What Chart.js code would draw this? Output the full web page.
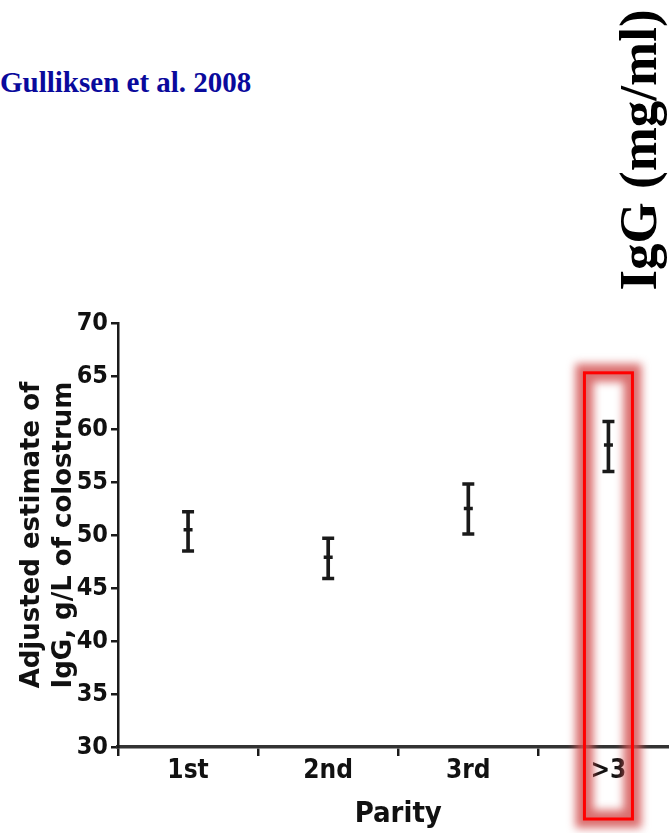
<!DOCTYPE html>
<html>
<head>
<meta charset="utf-8">
<script src="https://cdn.jsdelivr.net/npm/chart.js@4"></script>
<style>
  html, body { margin: 0; padding: 0; background: #fff; overflow: hidden; width: 669px; height: 833px; }
  #wrap { position: absolute; left: 0; top: 0; width: 688px; height: 833px; }
  .note { position: absolute; font-family: 'Liberation Serif', 'Times New Roman', serif; font-weight: bold; white-space: nowrap; line-height: 1; }
  #src { left: 0; top: 68px; font-size: 29px; color: #0a0a9c; }
  #unit { left: 638px; top: 150px; font-size: 53px; color: #000; transform: translate(-50%, -50%) rotate(-90deg); }
</style>
</head>
<body>
<div class="note" id="src">Gulliksen et al. 2008</div>
<div class="note" id="unit">IgG (mg/ml)</div>
<div id="wrap"><canvas id="chart" width="688" height="833"></canvas></div>
<script>
const categories = ['1st', '2nd', '3rd', '>3'];
const means = [50.5, 47.9, 52.5, 58.5];
const lower = [48.5, 45.9, 50.1, 56.0];
const upper = [52.2, 49.7, 54.8, 60.7];
const yMin = 30, yMax = 70, yStep = 5;

const ink = '#1a1a1a';
const narrow = "'DejaVu Sans Condensed', 'Liberation Sans Narrow', 'Arial Narrow', sans-serif";
const tickFont = { family: narrow, weight: 'bold', size: 25 };

// red highlight round the last category
const highlight = {
    id: 'highlight',
    afterDraw(chart) {
        const { ctx, scales: { x, y } } = chart;
        const cx = x.getPixelForValue(3);
        const left = cx - 24, right = cx + 24;
        const top = y.getPixelForValue(65.3);
        const bottom = chart.chartArea.bottom + 72;
        ctx.save();
        ctx.filter = 'blur(4px)';
        ctx.strokeStyle = 'rgba(212, 85, 85, 0.85)';
        ctx.lineWidth = 18;
        ctx.strokeRect(left, top, right - left, bottom - top);
        ctx.filter = 'none';
        ctx.strokeStyle = '#ff0000';
        ctx.lineWidth = 3;
        ctx.strokeRect(left, top, right - left, bottom - top);
        ctx.restore();
    }
};

const marks = (data, r) => ({
    type: 'line',
    data: data,
    showLine: false,
    pointStyle: 'line',
    pointRadius: r,
    pointHoverRadius: r,
    pointBorderWidth: 3.5,
    pointBorderColor: ink,
    borderColor: ink
});

new Chart(document.getElementById('chart'), {
    type: 'bar',
    data: {
        labels: categories,
        datasets: [
            {
                data: categories.map((c, i) => [lower[i], upper[i]]),
                backgroundColor: ink,
                barThickness: 3
            },
            marks(upper, 6),
            marks(lower, 6),
            marks(means, 4.5)
        ]
    },
    options: {
        responsive: false,
        animation: false,
        devicePixelRatio: 1,
        layout: { padding: { top: 323, left: 0, right: 0, bottom: 0 } },
        plugins: {
            legend: { display: false },
            tooltip: { enabled: false }
        },
        scales: {
            x: {
                offset: true,
                grid: { offset: true, drawOnChartArea: false, drawTicks: true, tickLength: 9, color: ink, lineWidth: 2.5 },
                border: { display: true, color: '#333', width: 3.5 },
                ticks: { color: '#111', font: { family: narrow, weight: 'bold', size: 26 }, padding: 0 },
                title: {
                    display: true, text: 'Parity', color: '#111',
                    font: { family: narrow, weight: 'bold', size: 29 },
                    padding: { top: 0, bottom: 1 }
                },
                afterFit(scale) {
                    scale.height = 86;
                    scale.paddingLeft = 0;
                    scale.paddingRight = 0;
                }
            },
            y: {
                min: yMin,
                max: yMax,
                grid: { drawOnChartArea: false, drawTicks: true, tickLength: 7, color: ink, lineWidth: 2.5 },
                border: { display: true, color: ink, width: 2.5 },
                ticks: { stepSize: yStep, color: '#111', font: tickFont, padding: 3 },
                title: {
                    display: true,
                    text: ['Adjusted estimate of', 'IgG, g/L of colostrum'],
                    color: '#111',
                    font: { family: "'DejaVu Sans', sans-serif", weight: 'bold', size: 26, lineHeight: 1.23 },
                    padding: { top: 16, bottom: 0 }
                },
                afterFit(scale) { scale.width = 118; }
            }
        }
    },
    plugins: [highlight]
});
</script>
</body>
</html>
